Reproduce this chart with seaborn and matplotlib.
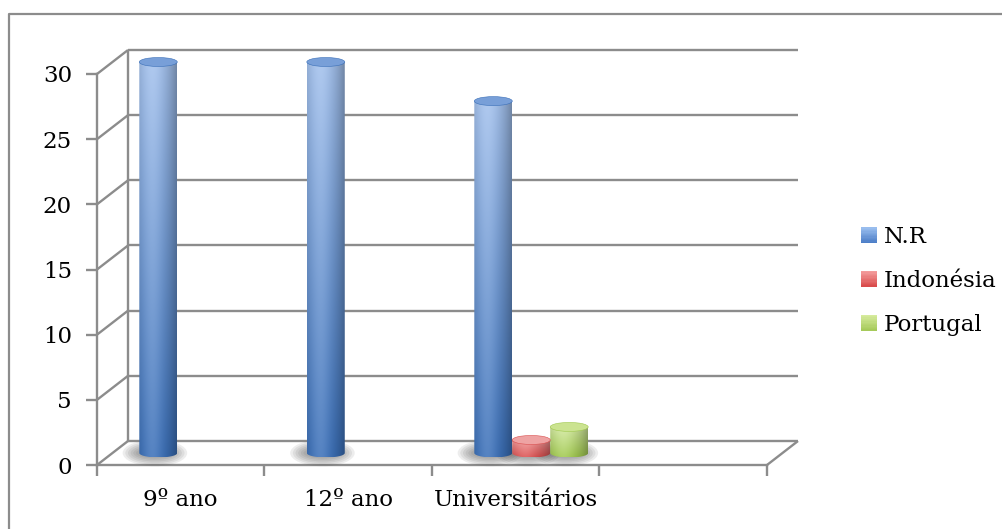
import numpy as np
import pandas as pd
import matplotlib
matplotlib.use("Agg")
import matplotlib.pyplot as plt
import seaborn as sns
from matplotlib.patches import Ellipse, Patch, PathPatch, Rectangle
from matplotlib.path import Path
from matplotlib.lines import Line2D
from matplotlib.transforms import Affine2D
from matplotlib.colors import to_rgb
from matplotlib.legend_handler import HandlerBase

# ---- data ----
categories = ["9º ano", "12º ano", "Universitários"]
series = ["N.R", "Indonésia", "Portugal"]
nr_values = [30, 30, 27]
indonesia_values = [0, 0, 1]
portugal_values = [0, 0, 2]
y_ticks = [0, 5, 10, 15, 20, 25, 30]
n_slots = 4  # the category axis has one empty slot on the right

# cylinder shading: (body top, body bottom, cap)
shades = {
    "N.R": ("#a2c0ec", "#3a6fb8", "#789fd8"),
    "Indonésia": ("#f09a9a", "#da4e4e", "#eea3a3"),
    "Portugal": ("#d4eaa2", "#9fc84c", "#cbe390"),
}
# legend swatches: (top, bottom)
swatch = {
    "N.R": ("#9cc0f0", "#4a7cc6"),
    "Indonésia": ("#f4a0a0", "#d84848"),
    "Portugal": ("#d8eca0", "#a4c858"),
}
palette = {s: shades[s][1] for s in series}

sns.set_theme(style="white")
plt.rcParams["font.family"] = ["DejaVu Serif"]
plt.rcParams["text.color"] = "black"
FS = 16.5
GRID = "#8c8c8c"
LW = 1.7

W, H = 1003, 529
fig = plt.figure(figsize=(W / 100, H / 100), dpi=100)
x0px, x1px = 97, 767
y0px, ytop_px = 465, 74
ax = fig.add_axes([x0px / W, (H - y0px) / H, (x1px - x0px) / W, (y0px - ytop_px) / H])

df = pd.DataFrame({
    "category": categories * 3,
    "series": [s for s in series for _ in categories],
    "value": nr_values + indonesia_values + portugal_values,
})
sns.barplot(data=df, x="category", y="value", hue="series", order=categories,
            hue_order=series, palette=palette, width=0.68, errorbar=None,
            legend=False, ax=ax)

ymax = y_ticks[-1]
xmin, xmax = -0.5, n_slots - 0.5

# depth of the pseudo-3D box, in pixels and in data units
DX, DY = 31, 24
px_per_x = (x1px - x0px) / (xmax - xmin)
px_per_y = (y0px - ytop_px) / ymax
ddx, ddy = DX / px_per_x, DY / px_per_y

line_kw = dict(color=GRID, lw=LW, clip_on=False, solid_capstyle="butt", zorder=1)

# back wall gridlines and their diagonals on the side wall
for yv in y_ticks:
    ax.plot([xmin + ddx, xmax + ddx], [yv + ddy, yv + ddy], **line_kw)
    ax.plot([xmin, xmin + ddx], [yv, yv + ddy], **line_kw)
ax.plot([xmin + ddx, xmin + ddx], [ddy, ymax + ddy], **line_kw)
ax.plot([xmax, xmax + ddx], [0, ddy], **line_kw)

# cylinders drawn from the seaborn bars, placed at mid-depth
mid = ax.transData + Affine2D().translate(DX / 2, DY / 2)
eh = 9 / px_per_y  # ellipse height in data units


def body_image(top, bottom, rows=200, cols=80):
    top, bottom = np.array(to_rgb(top)), np.array(to_rgb(bottom))
    s = np.linspace(0, 1, rows)[:, None, None]
    t = np.linspace(0, 1, cols)[None, :, None]
    base = bottom * (1 - s) + top * s
    light = 0.14 * np.exp(-((t - 0.35) / 0.25) ** 2)
    dark = np.where(t > 0.35, 0.30 * ((t - 0.35) / 0.65) ** 2.0,
                    0.10 * ((0.35 - t) / 0.35) ** 2)
    img = base + (1 - base) * light - base * dark
    return np.clip(img, 0, 1)


bars = list(ax.patches)
series_cycle = [s for s in series for _ in categories]
for bar, sname in zip(bars, series_cycle):
    bar.set_visible(False)
    h = bar.get_height()
    if h <= 0:
        continue
    bx, bw = bar.get_x(), bar.get_width()
    xc = bx + bw / 2
    top, bottom, cap = shades[sname]

    # soft shadow on the floor, a little heavier on the left
    for k in range(6):
        ax.add_patch(Ellipse((xc - 0.02, 0.0), bw * (1.0 + 0.14 * k), eh * (1.2 + 0.35 * k),
                             facecolor="#404040", edgecolor="none", alpha=0.09,
                             transform=mid, clip_on=False, zorder=2))

    # body outline: rectangle with a rounded bottom
    theta = np.linspace(np.pi, 2 * np.pi, 40)
    arc = np.column_stack([xc + bw / 2 * np.cos(theta), eh / 2 * np.sin(theta)])
    verts = np.vstack([[bx, h], arc, [bx + bw, h], [bx, h]])
    codes = [Path.MOVETO] + [Path.LINETO] * (len(verts) - 2) + [Path.CLOSEPOLY]
    outline = PathPatch(Path(verts, codes), facecolor="none", edgecolor="none",
                        transform=mid)
    ax.add_patch(outline)
    outline.set_clip_on(False)

    im = ax.imshow(body_image(top, bottom), origin="lower", aspect="auto",
                   extent=[bx, bx + bw, -eh / 2, h], interpolation="bilinear",
                   zorder=3)
    im.set_transform(mid)
    im.set_clip_path(outline)
    im.set_clip_box(fig.bbox)

    ax.add_patch(Ellipse((xc, h), bw, eh, facecolor=cap,
                         edgecolor=to_rgb(bottom), linewidth=0.4,
                         transform=mid, clip_on=False, zorder=4))

# axes, ticks and labels
ax.set_xlim(xmin, xmax)
ax.set_ylim(0, ymax)
for side in ("top", "right"):
    ax.spines[side].set_visible(False)
for side in ("left", "bottom"):
    ax.spines[side].set_color(GRID)
    ax.spines[side].set_linewidth(LW)
    ax.spines[side].set_zorder(1)

ax.set_yticks(y_ticks)
ax.set_yticklabels([str(v) for v in y_ticks])
ax.tick_params(axis="y", length=8, width=LW, color=GRID, pad=10,
               labelsize=FS, labelcolor="black", left=True)

ax.set_xticks(np.arange(n_slots + 1) - 0.5)
ax.set_xticklabels([])
ax.set_xticks(np.arange(len(categories)), minor=True)
ax.set_xticklabels(categories, minor=True)
ax.tick_params(axis="x", which="major", length=8, width=LW, color=GRID,
               direction="out", bottom=True)
ax.tick_params(axis="x", which="minor", length=0, pad=17, labelsize=FS,
               labelcolor="black")
ax.set_xlabel("")
ax.set_ylabel("")


class GradientSwatch(HandlerBase):
    """Legend key filled with a vertical colour gradient."""

    def create_artists(self, legend, orig_handle, xdescent, ydescent,
                       width, height, fontsize, trans):
        top, bottom = swatch[orig_handle.get_label()]
        top, bottom = np.array(to_rgb(top)), np.array(to_rgb(bottom))
        n = 12
        arts = []
        for i in range(n):
            f = (i + 0.5) / n
            col = bottom * (1 - f) + top * f
            arts.append(Rectangle((-xdescent, -ydescent + height * i / n), width,
                                  height / n + 0.02, facecolor=col, edgecolor="none",
                                  transform=trans))
        return arts


handles = [Patch(facecolor=shades[s][1], edgecolor="none", label=s) for s in series]
fig.legend(handles=handles, loc="upper left", bbox_to_anchor=(852 / W, 1 - 217 / H),
           frameon=False, fontsize=FS, handlelength=0.68, handleheight=0.68,
           handletextpad=0.3, labelspacing=0.95, borderaxespad=0,
           labelcolor="black", handler_map={Patch: GradientSwatch()})

# outer chart frame (top and left edges fall inside the image)
fig.add_artist(Line2D([9 / W, 9 / W, 1.01], [-0.01, 1 - 14 / H, 1 - 14 / H],
                      transform=fig.transFigure, color=GRID, lw=1.6))

fig.savefig("out.png", dpi=100)
